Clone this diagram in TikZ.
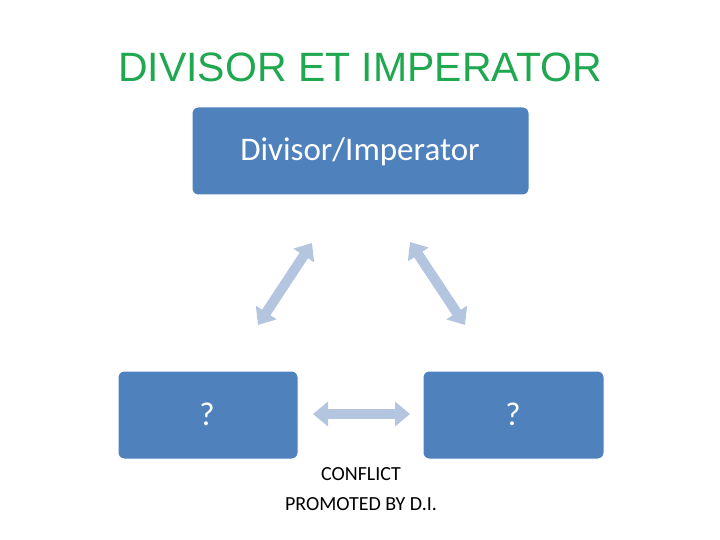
\documentclass[tikz,border=0pt]{standalone}
\usepackage{fontspec}
\setmainfont{Carlito}
\newfontfamily\titlefont{Liberation Sans}
\usetikzlibrary{arrows.meta}
\definecolor{boxblue}{HTML}{4F81BD}
\definecolor{arrblue}{HTML}{B4C5E0}
\definecolor{titlegreen}{HTML}{1FA84F}
\tikzset{
  box/.style={draw=white, line width=1pt, fill=boxblue, rounded corners=6pt, text=white, font=\fontsize{33}{36}\selectfont},
  dblarrow/.style={draw=arrblue, line width=10pt, {Triangle[width=24pt,length=15pt]}-{Triangle[width=24pt,length=15pt]}}
}
\begin{document}
\begin{tikzpicture}[x=1pt,y=-1pt]
\useasboundingbox (0,0) rectangle (720,540);
\node[font=\titlefont\fontsize{41}{44}\selectfont, text=titlegreen] (title) at (360,67) {DIVISOR ET IMPERATOR};
\node[box, minimum width=337pt, minimum height=88pt] (top) at (360.5,151) {};
\node[text=white, font=\fontsize{33}{36}\selectfont] (toptxt) at (360,152) {Divisor/Imperator};
\node[box, minimum width=180pt, minimum height=88pt] (left) at (208,415) {};
\node[text=white, font=\fontsize{33}{36}\selectfont] (lq) at (207,414) {?};
\node[box, minimum width=181pt, minimum height=88pt] (right) at (513.5,415) {};
\node[text=white, font=\fontsize{33}{36}\selectfont] (rq) at (513,414) {?};
\coordinate (a1) at (312,243); \coordinate (a2) at (258,325);
\coordinate (b1) at (410,242); \coordinate (b2) at (465,325);
\coordinate (c1) at (313,414); \coordinate (c2) at (410,414);
\draw[dblarrow] (a1) -- (a2);
\draw[dblarrow] (b1) -- (b2);
\draw[dblarrow] (c1) -- (c2);
\node[font=\fontsize{20}{30}\selectfont, align=center] (conf) at (361,489) {CONFLICT\\PROMOTED BY D.I.};
\end{tikzpicture}
\end{document}
